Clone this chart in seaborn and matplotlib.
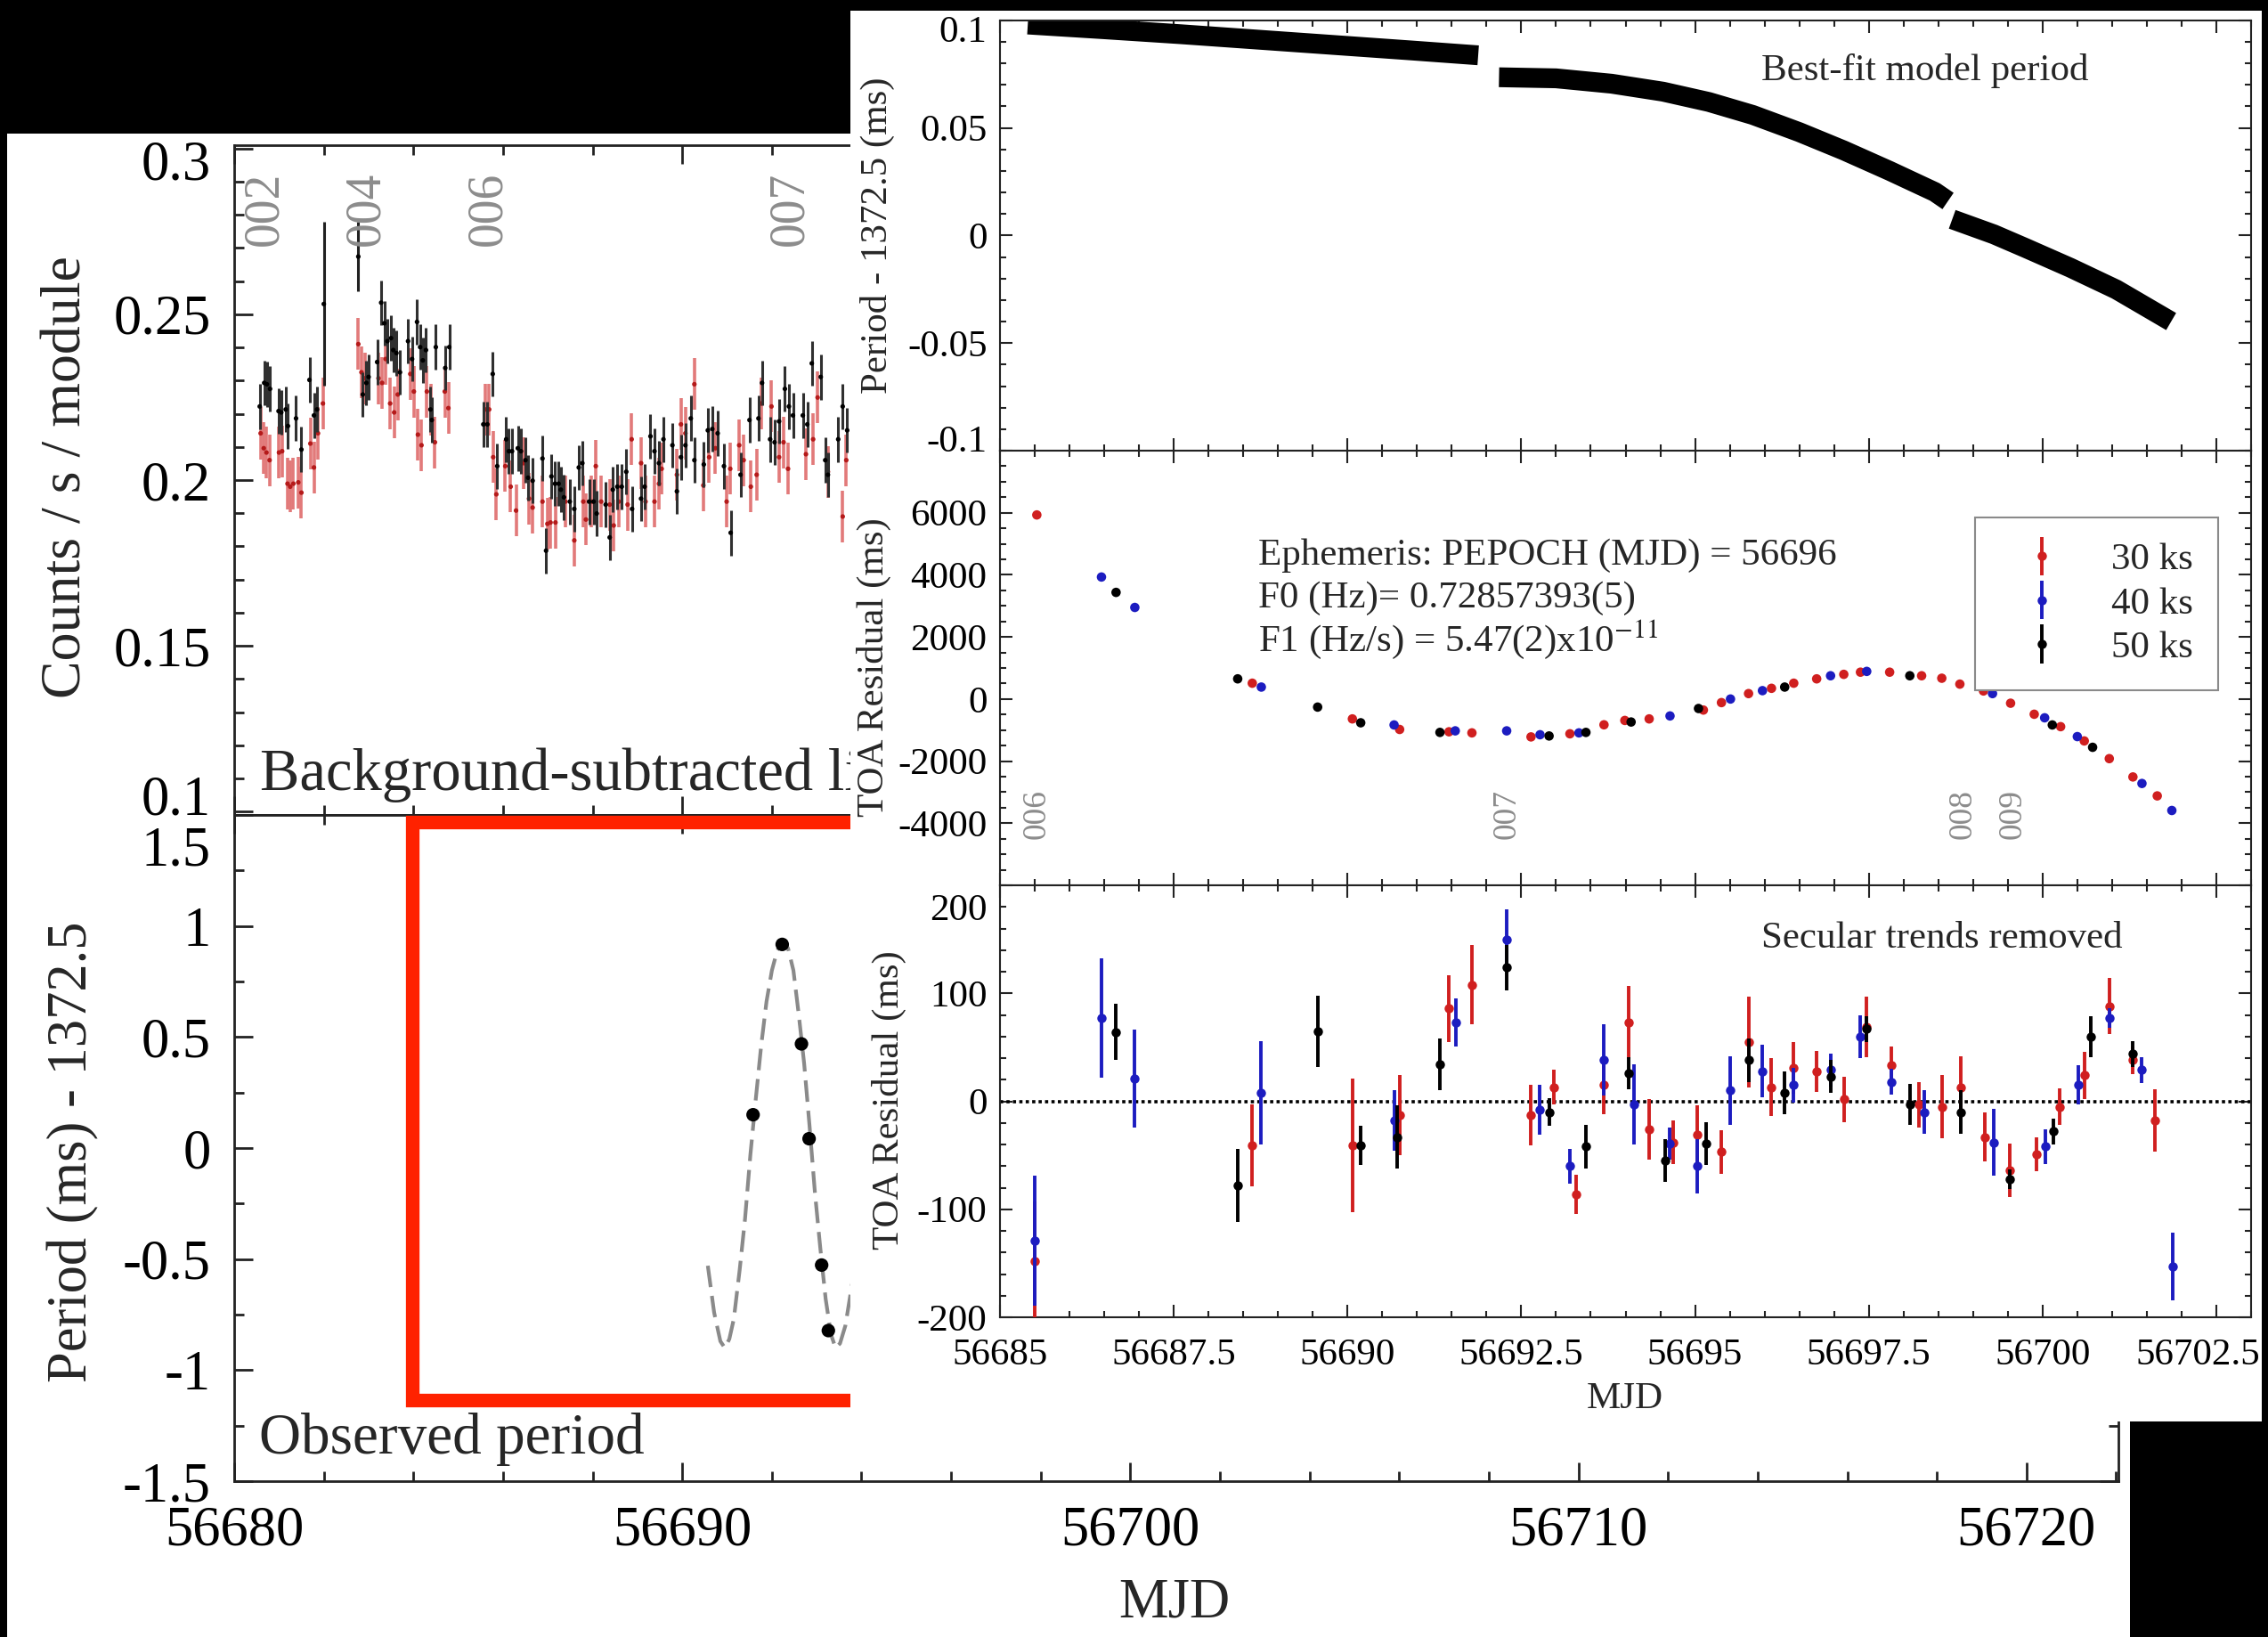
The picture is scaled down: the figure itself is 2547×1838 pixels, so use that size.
import numpy as np
import pandas as pd
import matplotlib
matplotlib.use("Agg")
import matplotlib.pyplot as plt
import seaborn as sns
from matplotlib.patches import Rectangle
from matplotlib.transforms import ScaledTranslation
from matplotlib.ticker import MultipleLocator, FixedLocator, FuncFormatter, NullFormatter

# ------------------------------------------------------------------ data
# light curve (left top), black and red series
LC_BLACK_MJD = [56680.57, 56680.67, 56680.73, 56680.80, 56680.99, 56681.05, 56681.15, 56681.20, 56681.38, 56681.50, 56681.68, 56681.78, 56681.85,
                56682.87, 56682.95, 56683.00, 56683.19, 56683.28, 56683.35, 56683.42, 56683.50, 56683.55, 56683.62, 56683.70, 56683.88, 56683.97, 56684.08, 56684.15, 56684.21, 56684.28, 56684.38, 56684.41, 56684.50, 56684.71, 56684.80,
                56685.56, 56685.65, 56685.77, 56685.87, 56686.07, 56686.13, 56686.20, 56686.33, 56686.40, 56686.50, 56686.56, 56686.66, 56686.88, 56686.96, 56687.08, 56687.16, 56687.24, 56687.29, 56687.36, 56687.49, 56687.59, 56687.69, 56687.77, 56687.92, 56688.02, 56688.09, 56688.29, 56688.38, 56688.45, 56688.55, 56688.65, 56688.75, 56688.88,
                56689.08, 56689.16, 56689.29, 56689.38, 56689.48, 56689.58, 56689.78, 56689.88, 56689.97, 56690.07, 56690.19, 56690.27, 56690.48, 56690.57, 56690.67, 56690.79, 56690.93, 56691.08, 56691.30, 56691.50, 56691.70, 56691.78, 56691.96, 56692.06, 56692.16, 56692.29, 56692.38, 56692.47, 56692.69, 56692.79, 56692.89, 56693.09, 56693.19, 56693.25, 56693.48, 56693.58, 56693.68]
LC_BLACK_RATE = [0.2222, 0.2293, 0.2289, 0.2275, 0.2208, 0.2204, 0.2213, 0.2163, 0.2186, 0.2092, 0.2302, 0.2195, 0.2213,
                 0.2258, 0.2293, 0.2311, 0.2356, 0.2535, 0.2473, 0.2419, 0.2428, 0.2392, 0.2383, 0.2325, 0.2419, 0.2365, 0.2477, 0.2401, 0.2361, 0.2392, 0.2213, 0.2181, 0.2401, 0.2338, 0.2401,
                 0.2168, 0.2168, 0.2320, 0.2042, 0.2123, 0.2087, 0.2087, 0.2096, 0.2087, 0.2060, 0.2007, 0.1998, 0.2065, 0.1787, 0.2011, 0.1989, 0.1989, 0.1971, 0.1948, 0.1935, 0.1913, 0.2038, 0.2051, 0.1935, 0.1935, 0.1899, 0.1926, 0.1827, 0.1971, 0.1980, 0.1980, 0.2025, 0.1913,
                 0.1944, 0.1980, 0.2132, 0.2087, 0.2051, 0.2123, 0.2105, 0.1966, 0.2069, 0.2105, 0.2186, 0.2060, 0.2047, 0.2150, 0.2154, 0.2141, 0.2042, 0.1841, 0.2016, 0.2181, 0.2186, 0.2293, 0.2123, 0.2114, 0.2177, 0.2275, 0.2222, 0.2195, 0.2195, 0.2168, 0.2352, 0.2311, 0.2060, 0.2016, 0.2123, 0.2222, 0.2150]
LC_BLACK_ERR = 0.0068
LC_BLACK_BIG_MJD = [56682.00, 56682.77]
LC_BLACK_BIG_RATE = [0.2531, 0.2674]
LC_BLACK_BIG_ERR = [0.0247, 0.0105]

LC_RED_MJD = [56680.59, 56680.66, 56680.72, 56680.79, 56681.00, 56681.07, 56681.19, 56681.25, 56681.32, 56681.43, 56681.50, 56681.70, 56681.78, 56681.87, 56681.98,
              56682.77, 56682.84, 56682.92, 56683.22, 56683.30, 56683.38, 56683.48, 56683.57, 56683.65, 56683.93, 56684.01, 56684.10, 56684.18, 56684.30, 56684.39, 56684.48, 56684.70, 56684.78,
              56685.60, 56685.69, 56685.78, 56685.85, 56686.05, 56686.17, 56686.29, 56686.46, 56686.58, 56686.66, 56686.88, 56686.99, 56687.06, 56687.17, 56687.39, 56687.59, 56687.79, 56687.85, 56687.97, 56688.07, 56688.19, 56688.38, 56688.47, 56688.58, 56688.78, 56688.87,
              56689.08, 56689.18, 56689.38, 56689.48, 56689.54, 56689.88, 56689.97, 56690.07, 56690.27, 56690.47, 56690.60, 56690.74, 56690.99, 56691.07, 56691.27, 56691.37, 56691.53, 56691.66, 56691.76, 56691.99, 56692.16, 56692.26, 56692.36, 56692.76, 56692.92, 56693.02, 56693.25, 56693.58, 56693.66]
LC_RED_RATE = [0.2141, 0.2096, 0.2083, 0.2060, 0.2083, 0.2087, 0.1989, 0.1980, 0.1989, 0.1993, 0.1962, 0.2110, 0.2038, 0.2141, 0.2231,
               0.2410, 0.2325, 0.2307, 0.2307, 0.2293, 0.2365, 0.2231, 0.2204, 0.2258, 0.2320, 0.2267, 0.2137, 0.2105, 0.2267, 0.2213, 0.2114, 0.2267, 0.2217,
               0.2213, 0.2213, 0.2069, 0.1957, 0.2042, 0.1980, 0.1908, 0.2051, 0.1944, 0.1917, 0.1935, 0.1868, 0.1872, 0.1872, 0.1935, 0.1818, 0.1935, 0.1881, 0.1935, 0.2042, 0.1935, 0.1926, 0.1863, 0.1935, 0.1926, 0.2123,
               0.2051, 0.1935, 0.1935, 0.1989, 0.2034, 0.2016, 0.2168, 0.2141, 0.2289, 0.1984, 0.2069, 0.2096, 0.1935, 0.2034, 0.2105, 0.2060, 0.1980, 0.2016, 0.2231, 0.2222, 0.2069, 0.2114, 0.2034, 0.2078, 0.2123, 0.2249, 0.2025, 0.1890, 0.2060]
LC_RED_ERR = 0.0078

OBS_LEFT_NAMES = ["002", "004", "006", "007"]
OBS_LEFT_MJD = [56680.68, 56682.94, 56685.68, 56692.40]

# observed period (left bottom)
PER_CURVE_MJD = [56690.57, 56690.71, 56690.85, 56690.95, 56691.05, 56691.15, 56691.28, 56691.40, 56691.52, 56691.64,
                 56691.76, 56691.88, 56692.00, 56692.12, 56692.24, 56692.36, 56692.48, 56692.60, 56692.72, 56692.84,
                 56692.96, 56693.08, 56693.20, 56693.32, 56693.42, 56693.52, 56693.64, 56693.80]
PER_CURVE_VAL = [-0.53, -0.74, -0.87, -0.90, -0.86, -0.77, -0.55, -0.32, -0.03, 0.22,
                 0.46, 0.66, 0.80, 0.89, 0.93, 0.90, 0.80, 0.60, 0.38, 0.10,
                 -0.20, -0.45, -0.68, -0.84, -0.90, -0.88, -0.80, -0.60]
PER_OBS_MJD = [56691.58, 56692.23, 56692.66, 56692.83, 56693.11, 56693.26]
PER_OBS_VAL = [0.150, 0.917, 0.469, 0.042, -0.527, -0.822]

# best-fit model period (right top), three segments
SEG1_MJD = [56685.40, 56686.50, 56687.60, 56688.70, 56689.80, 56690.90, 56691.88]
SEG1_P = [0.0980, 0.0958, 0.0935, 0.0910, 0.0885, 0.0860, 0.0837]
SEG2_MJD = [56692.18, 56693.00, 56693.80, 56694.54, 56695.20, 56695.83, 56696.50, 56697.14, 56697.80, 56698.45, 56698.64]
SEG2_P = [0.0735, 0.0730, 0.0705, 0.0668, 0.0620, 0.0560, 0.0480, 0.0395, 0.0300, 0.0202, 0.0160]
SEG3_MJD = [56698.70, 56699.30, 56699.76, 56700.40, 56701.06, 56701.85]
SEG3_P = [0.0075, 0.0005, -0.0059, -0.0150, -0.0251, -0.0400]

# TOA residuals (right middle)
TOA_RED_MJD = [56685.53, 56688.63, 56690.07, 56690.75, 56691.46, 56691.79, 56692.64, 56693.20, 56693.69, 56693.99, 56694.34,
               56695.12, 56695.38, 56695.77, 56696.10, 56696.42, 56696.75, 56697.14, 56697.38, 56697.80, 56698.26, 56698.55,
               56698.81, 56699.15, 56699.54, 56699.88, 56700.26, 56700.60, 56700.96, 56701.30, 56701.65]
TOA_RED = [5930, 510, -640, -980, -1055, -1090, -1220, -1120, -830, -690, -640,
           -355, -115, 175, 345, 510, 650, 795, 865, 865, 750, 670,
           480, 260, -135, -490, -890, -1350, -1920, -2510, -3120]
TOA_BLUE_MJD = [56686.46, 56686.94, 56688.76, 56690.67, 56691.55, 56692.29, 56692.77, 56693.33, 56694.64, 56695.51,
                56695.97, 56696.95, 56697.47, 56699.28, 56700.03, 56700.50, 56701.43, 56701.86]
TOA_BLUE = [3930, 2950, 385, -835, -1025, -1025, -1150, -1090, -545, 0,
            270, 750, 890, 175, -605, -1210, -2720, -3590]
TOA_BLACK_MJD = [56686.67, 56688.42, 56689.57, 56690.19, 56691.33, 56692.90, 56693.43, 56694.08, 56695.05, 56696.29,
                 56698.09, 56700.14, 56700.72]
TOA_BLACK = [3435, 650, -260, -765, -1075, -1190, -1075, -740, -305, 385,
             750, -835, -1555]

OBS_RIGHT_NAMES = ["006", "007", "008", "009"]
OBS_RIGHT_MJD = [56685.53, 56692.30, 56698.85, 56699.57]

# residuals with secular trends removed (right bottom)
RES_RED_MJD = [56685.50, 56688.63, 56690.07, 56690.75, 56691.46, 56691.79, 56692.64, 56692.97, 56693.29, 56693.69, 56694.04,
               56694.34, 56694.69, 56695.03, 56695.38, 56695.77, 56696.10, 56696.42, 56696.75, 56697.14, 56697.47, 56697.83,
               56698.22, 56698.55, 56698.82, 56699.17, 56699.53, 56699.91, 56700.25, 56700.60, 56700.96, 56701.30, 56701.62]
RES_RED = [-148, -41, -41, -13, 86, 108, -13, 13, -86, 15, 73,
           -26, -38, -31, -47, 55, 13, 31, 28, 2, 69, 33,
           -3, -5, 13, -33, -64, -49, -5, 24, 88, 38, -18]
RES_RED_ERR = [55, 38, 62, 37, 31, 37, 28, 16, 18, 27, 34,
               28, 20, 27, 20, 42, 27, 24, 19, 21, 28, 18,
               21, 29, 29, 23, 25, 16, 17, 22, 26, 13, 29]
RES_BLUE_MJD = [56685.50, 56686.46, 56686.94, 56688.76, 56690.67, 56691.56, 56692.29, 56692.77, 56693.20, 56693.69,
                56694.12, 56694.64, 56695.03, 56695.51, 56695.97, 56696.42, 56696.95, 56697.38, 56697.83, 56698.30,
                56699.30, 56700.04, 56700.51, 56700.96, 56701.43, 56701.87]
RES_BLUE = [-129, 77, 21, 8, -18, 73, 150, -8, -60, 38,
            -3, -39, -60, 10, 28, 15, 29, 60, 18, -10,
            -38, -42, 15, 77, 29, -153]
RES_BLUE_ERR = [60, 55, 45, 48, 28, 22, 28, 23, 16, 33,
                37, 15, 25, 32, 24, 16, 15, 20, 12, 20,
                31, 16, 18, 9, 12, 31]
RES_BLACK_MJD = [56686.67, 56688.42, 56689.57, 56690.19, 56690.72, 56691.33, 56692.29, 56692.90, 56693.43, 56694.04,
                 56694.57, 56695.16, 56695.77, 56696.29, 56696.95, 56697.47, 56698.09, 56698.82, 56699.53, 56700.15,
                 56700.70, 56701.30]
RES_BLACK = [64, -78, 65, -41, -33, 34, 124, -10, -42, 26,
             -55, -39, 38, 8, 23, 67, -3, -10, -72, -28,
             60, 44]
RES_BLACK_ERR = [26, 34, 33, 18, 29, 24, 21, 13, 20, 15,
                 20, 20, 20, 20, 15, 12, 19, 20, 9, 12,
                 19, 12]

LEGEND_LABELS = ["30 ks", "40 ks", "50 ks"]
EPHEMERIS = ["Ephemeris: PEPOCH (MJD) = 56696",
             "F0 (Hz)= 0.72857393(5)",
             r"F1 (Hz/s) = 5.47(2)x10$^{-11}$"]

# ------------------------------------------------------------------ style
sns.set_style("ticks")
plt.rcParams["font.family"] = ["Liberation Serif", "DejaVu Serif"]
plt.rcParams["mathtext.fontset"] = "stix"
plt.rcParams["axes.unicode_minus"] = False

RED = "#d01f1f"
BLUE = "#1c1cc0"
BLACK = "#000000"
GRAYLAB = "#8c8c8c"

W, H = 2547, 1838
fig = plt.figure(figsize=(W / 100, H / 100), dpi=100, facecolor="black")


def fx(x):
    return x / W


def fy(y):
    return 1 - y / H


def axes_at(x0, y0, x1, y1, z):
    ax = fig.add_axes([x0 / W, 1 - y1 / H, (x1 - x0) / W, (y1 - y0) / H])
    ax.set_zorder(z)
    ax.set_facecolor("white")
    return ax


def gfmt(v, pos):
    v = round(v, 6)
    if v == 0:
        return "0"
    return f"{v:g}"


def style(ax, xmaj, xmin, ymaj, ymin, size, majlen, minlen, lw, padx, pady, showx):
    ax.xaxis.set_major_locator(FixedLocator(xmaj))
    ax.xaxis.set_minor_locator(MultipleLocator(xmin))
    ax.yaxis.set_major_locator(FixedLocator(ymaj))
    ax.yaxis.set_minor_locator(MultipleLocator(ymin))
    ax.yaxis.set_major_formatter(FuncFormatter(gfmt))
    if showx:
        ax.xaxis.set_major_formatter(FuncFormatter(gfmt))
    else:
        ax.xaxis.set_major_formatter(NullFormatter())
    ax.tick_params(which="both", direction="in", top=True, right=True,
                   width=lw, color="#222222", labelcolor="black")
    ax.tick_params(which="major", length=majlen, labelsize=size)
    ax.tick_params(which="minor", length=minlen)
    ax.tick_params(axis="x", which="major", pad=padx)
    ax.tick_params(axis="y", which="major", pad=pady)
    for s in ax.spines.values():
        s.set_linewidth(lw)
        s.set_color("#222222")
    ax.set_xlabel("")
    ax.set_ylabel("")


# background panels (screenshot composite)
fig.add_artist(Rectangle((fx(8), fy(1838)), (2392 - 8) / W, (1838 - 150) / H,
                         transform=fig.transFigure, facecolor="white", edgecolor="none", zorder=-5))
fig.add_artist(Rectangle((fx(955), fy(1596)), (2540 - 955) / W, (1596 - 12) / H,
                         transform=fig.transFigure, facecolor="white", edgecolor="none", zorder=2))

# ------------------------------------------------------------------ left panel
LX0, LX1 = 263, 2379
ax_lc = axes_at(LX0, 163, LX1, 915, 0)
ax_op = axes_at(LX0, 915, LX1, 1663, 0)

# light curve
ax_lc.errorbar(LC_RED_MJD, LC_RED_RATE, yerr=LC_RED_ERR, fmt="none", ecolor="#e27a7a",
               elinewidth=2.6, zorder=2)
sns.scatterplot(x=LC_RED_MJD, y=LC_RED_RATE, color="#b51a1a", s=14, edgecolor="none", ax=ax_lc, zorder=3)
ax_lc.errorbar(LC_BLACK_MJD, LC_BLACK_RATE, yerr=LC_BLACK_ERR, fmt="none", ecolor="#303030",
               elinewidth=2.2, zorder=4)
ax_lc.errorbar(LC_BLACK_BIG_MJD, LC_BLACK_BIG_RATE, yerr=LC_BLACK_BIG_ERR, fmt="none", ecolor="#202020",
               elinewidth=2.2, zorder=4)
sns.scatterplot(x=LC_BLACK_MJD + LC_BLACK_BIG_MJD, y=LC_BLACK_RATE + LC_BLACK_BIG_RATE, color="black",
                s=14, edgecolor="none", ax=ax_lc, zorder=5)
for name, m in zip(OBS_LEFT_NAMES, OBS_LEFT_MJD):
    ax_lc.text(m, 0.2819, name, rotation=90, ha="center", va="center", fontsize=40, color=GRAYLAB, zorder=6)
ax_lc.text(56680.58, 0.1110, "Background-subtracted light curve", ha="left", va="center", fontsize=48, zorder=6)
ax_lc.set_xlim(56680, 56722.05)
ax_lc.set_ylim(0.099, 0.301)
style(ax_lc, [56680, 56690, 56700, 56710, 56720], 2, [0.1, 0.15, 0.2, 0.25, 0.3], 0.01,
      45, 15, 8, 2.0, 20, 19, False)

# observed period
sns.lineplot(x=PER_CURVE_MJD, y=PER_CURVE_VAL, color="#8a8a8a", lw=3.0, linestyle=(0, (5.8, 2.4)),
             errorbar=None, ax=ax_op, zorder=2)
sns.scatterplot(x=PER_OBS_MJD, y=PER_OBS_VAL, color="black", s=120, edgecolor="none", ax=ax_op, zorder=3)
ax_op.text(56680.56, -1.31, "Observed period", ha="left", va="center", fontsize=47, zorder=6)
ax_op.set_xlim(56680, 56722.05)
ax_op.set_ylim(-1.5, 1.5)
style(ax_op, [56680, 56690, 56700, 56710, 56720], 2, [-1.5, -1, -0.5, 0, 0.5, 1, 1.5], 0.25,
      45, 15, 8, 2.0, 20, 19, True)

fig.text(fx(76), fy(536), "Counts / s / module", rotation=90, ha="center", va="center", fontsize=46, zorder=0.5)
fig.text(fx(82), fy(1293), "Period (ms) - 1372.5", rotation=90, ha="center", va="center", fontsize=45, zorder=0.5)
fig.text(fx(1319), fy(1800), "MJD", ha="center", va="center", fontsize=45, zorder=0.5)

# red highlight box
fig.add_artist(Rectangle((fx(463), fy(1572)), (1300 - 463) / W, (1572 - 923) / H, transform=fig.transFigure,
                         fill=False, edgecolor="#ff2200", linewidth=11, zorder=1))

# ------------------------------------------------------------------ right panel
RX0, RX1 = 1123, 2528
ax_bf = axes_at(RX0, 22.7, RX1, 506, 3)
ax_toa = axes_at(RX0, 506, RX1, 994, 3)
ax_res = axes_at(RX0, 994, RX1, 1479, 3)
XMAJ = [56685, 56687.5, 56690, 56692.5, 56695, 56697.5, 56700, 56702.5]

for sx, sy in ((SEG1_MJD, SEG1_P), (SEG2_MJD, SEG2_P), (SEG3_MJD, SEG3_P)):
    sns.lineplot(x=sx, y=sy, color="black", lw=16, solid_capstyle="butt", errorbar=None, ax=ax_bf)
ax_bf.text(56695.95, 0.0767, "Best-fit model period", ha="left", va="center", fontsize=31)
ax_bf.set_xlim(56685, 56703)
ax_bf.set_ylim(-0.1, 0.1)
style(ax_bf, XMAJ, 0.5, [-0.1, -0.05, 0, 0.05, 0.1], 0.01, 31, 10, 5, 1.5, 17, 10.5, False)

sns.scatterplot(x=TOA_RED_MJD, y=TOA_RED, color=RED, s=58, edgecolor="none", ax=ax_toa, zorder=3)
sns.scatterplot(x=TOA_BLUE_MJD, y=TOA_BLUE, color=BLUE, s=58, edgecolor="none", ax=ax_toa, zorder=4)
sns.scatterplot(x=TOA_BLACK_MJD, y=TOA_BLACK, color=BLACK, s=58, edgecolor="none", ax=ax_toa, zorder=5)
for i, line in enumerate(EPHEMERIS):
    ax_toa.text(56688.72, [4617, 3240, 1920][i], line, ha="left", va="center", fontsize=31)
for name, m in zip(OBS_RIGHT_NAMES, OBS_RIGHT_MJD):
    ax_toa.text(m, -3704, name, rotation=90, ha="center", va="center", fontsize=27, color=GRAYLAB)
ax_toa.set_xlim(56685, 56703)
ax_toa.set_ylim(-6000, 8000)
style(ax_toa, XMAJ, 0.5, [-4000, -2000, 0, 2000, 4000, 6000], 500, 31, 10, 5, 1.5, 17, 10.5, False)

ax_res.axhline(0, color="black", lw=2.6, linestyle=(0, (1, 1)), zorder=1)
eb_r = ax_res.errorbar(RES_RED_MJD, RES_RED, yerr=RES_RED_ERR, fmt="o", color=RED, ms=7.5, mec="none",
                       elinewidth=2.8, capsize=0, zorder=3)
eb_b = ax_res.errorbar(RES_BLUE_MJD, RES_BLUE, yerr=RES_BLUE_ERR, fmt="o", color=BLUE, ms=7.5, mec="none",
                       elinewidth=2.8, capsize=0, zorder=4)
eb_k = ax_res.errorbar(RES_BLACK_MJD, RES_BLACK, yerr=RES_BLACK_ERR, fmt="o", color=BLACK, ms=7.5, mec="none",
                       elinewidth=2.8, capsize=0, zorder=5)
ax_res.text(56695.95, 151, "Secular trends removed", ha="left", va="center", fontsize=31)
ax_res.set_xlim(56685, 56703)
ax_res.set_ylim(-200, 200)
style(ax_res, XMAJ, 0.5, [-200, -100, 0, 100, 200], 20, 31, 10, 5, 1.5, 17, 10.5, True)

leg = ax_toa.legend(handles=[eb_r, eb_b, eb_k], labels=LEGEND_LABELS, loc="upper left",
                    bbox_to_anchor=((2218 - RX0) / (RX1 - RX0), (994 - 581) / (994 - 506)),
                    borderaxespad=0, fontsize=31, frameon=True, fancybox=False, framealpha=1,
                    edgecolor="#8a8a8a", borderpad=0.65, handlelength=2.2, handletextpad=0.7,
                    labelspacing=0.24, numpoints=1)
leg.get_frame().set_linewidth(1.5)

fig.text(fx(985), fy(264), "Period - 1372.5 (ms)", rotation=90, ha="center", va="center", fontsize=31, zorder=4)
fig.text(fx(981), fy(749), "TOA Residual (ms)", rotation=90, ha="center", va="center", fontsize=31, zorder=4)
fig.text(fx(998), fy(1235), "TOA Residual (ms)", rotation=90, ha="center", va="center", fontsize=31, zorder=4)
fig.text(fx(1825), fy(1571), "MJD", ha="center", va="center", fontsize=31, zorder=4)

# edge tick labels are nudged inward, as in the original figure
fig.canvas.draw()


def nudge(axis, value, dx_px, dy_px):
    for tick in axis.get_major_ticks():
        if abs(tick.get_loc() - value) < 1e-6:
            lab = tick.label1
            lab.set_transform(lab.get_transform() +
                              ScaledTranslation(dx_px / 100, dy_px / 100, fig.dpi_scale_trans))


nudge(ax_lc.yaxis, 0.3, 0, -13)
nudge(ax_lc.yaxis, 0.1, 0, 19)
nudge(ax_op.yaxis, 1.5, 0, -35)
nudge(ax_bf.yaxis, 0.1, 0, -10)
nudge(ax_bf.yaxis, -0.1, 0, 14)
nudge(ax_res.yaxis, 200, 0, -24)
nudge(ax_res.xaxis, 56702.5, -21, 0)

fig.savefig("out.png", dpi=100, facecolor="black")
